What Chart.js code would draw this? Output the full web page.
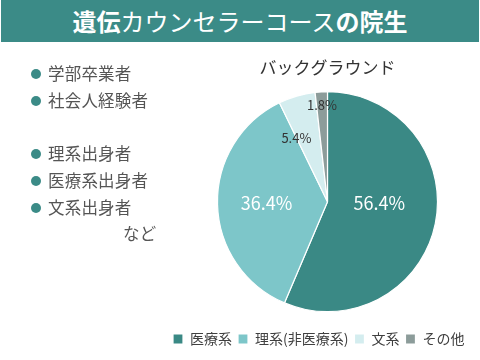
<!DOCTYPE html>
<html lang="ja">
<head>
<meta charset="utf-8">
<script src="https://cdn.jsdelivr.net/npm/chart.js@4.4.1/dist/chart.umd.min.js"></script>
<style>
    html, body { margin: 0; padding: 0; background: #fff; }
    #wrap { position: relative; width: 480px; height: 360px; overflow: hidden;
            font-family: "Noto Sans CJK JP", "Noto Sans", sans-serif; }
    #header { position: absolute; left: 1px; top: 0; width: 478px; height: 42px; z-index: 2;
              background: #3b8b87; color: #fff; text-align: center;
              font-size: 24px; line-height: 42px; font-weight: 400; }
    #header b { font-weight: 700; }
    #list { position: absolute; left: 31px; top: 60px; z-index: 2; color: #555;
            font-size: 16.5px; line-height: 26.7px; letter-spacing: 0.2px; }
    #list .item::before { content: ""; display: inline-block; width: 10px; height: 10px;
            border-radius: 50%; background: #3b8b87; margin-right: 7px; vertical-align: 1px; }
    #list .gap { height: 26.7px; }
    #list .etc { padding-left: 92px; }
    #chart { position: absolute; left: 0; top: 0; }
</style>
</head>
<body>
<div id="wrap">
    <div id="header"><b>遺伝</b>カウンセラーコース<b>の院生</b></div>
    <div id="list">
        <div class="item">学部卒業者</div>
        <div class="item">社会人経験者</div>
        <div class="gap"></div>
        <div class="item">理系出身者</div>
        <div class="item">医療系出身者</div>
        <div class="item">文系出身者</div>
        <div class="etc">など</div>
    </div>
    <!-- a bit wider than the page so the pie can sit right of centre with the legend fitting on one line -->
    <canvas id="chart" width="488" height="360"></canvas>
</div>
<script>
// data
const categories = ['医療系', '理系(非医療系)', '文系', 'その他'];
const shares = [56.4, 36.4, 5.4, 1.8];

// styling for the slices and their labels
const sliceColors = ['#3a8985', '#7dc6c9', '#d4edef', '#8c9c9a'];
const labelColors = ['#ffffff', '#ffffff', '#333333', '#333333'];
const labelSizes = [18, 18, 13, 13];
const labelRadius = [0.47, 0.555, 0.64, 0.88];
const labelNudge = [-10, 0, -10, 0]; // degrees

const FONT = '"Noto Sans CJK JP", "Noto Sans", sans-serif';

const sliceLabels = {
    id: 'sliceLabels',
    afterDatasetsDraw(chart) {
        const ctx = chart.ctx;
        const meta = chart.getDatasetMeta(0);
        ctx.save();
        ctx.textAlign = 'center';
        ctx.textBaseline = 'middle';
        meta.data.forEach((arc, i) => {
            const p = arc.getProps(['x', 'y', 'startAngle', 'endAngle', 'outerRadius'], true);
            const mid = (p.startAngle + p.endAngle) / 2 + labelNudge[i] * Math.PI / 180;
            const r = p.outerRadius * labelRadius[i];
            ctx.fillStyle = labelColors[i];
            ctx.font = `${labelSizes[i]}px ${FONT}`;
            ctx.fillText(shares[i].toFixed(1) + '%', p.x + Math.cos(mid) * r, p.y + Math.sin(mid) * r);
        });
        ctx.restore();
    }
};

new Chart(document.getElementById('chart').getContext('2d'), {
    type: 'pie',
    data: {
        labels: categories,
        datasets: [{
            data: shares,
            backgroundColor: sliceColors,
            borderColor: '#ffffff',
            borderWidth: 1.2,
            radius: 110
        }]
    },
    options: {
        responsive: false,
        animation: false,
        layout: { padding: { top: 57, bottom: 4, left: 167, right: 0 } },
        plugins: {
            title: {
                display: true,
                text: 'バックグラウンド',
                color: '#333',
                font: { family: FONT, size: 17, weight: 'normal', lineHeight: 1.2 },
                padding: { top: 0, bottom: 0 }
            },
            legend: {
                position: 'bottom',
                align: 'start',
                labels: {
                    color: '#404040',
                    font: { family: FONT, size: 14 },
                    boxWidth: 10,
                    boxHeight: 10,
                    padding: 6
                }
            },
            tooltip: { enabled: false }
        }
    },
    plugins: [sliceLabels]
});
</script>
</body>
</html>
